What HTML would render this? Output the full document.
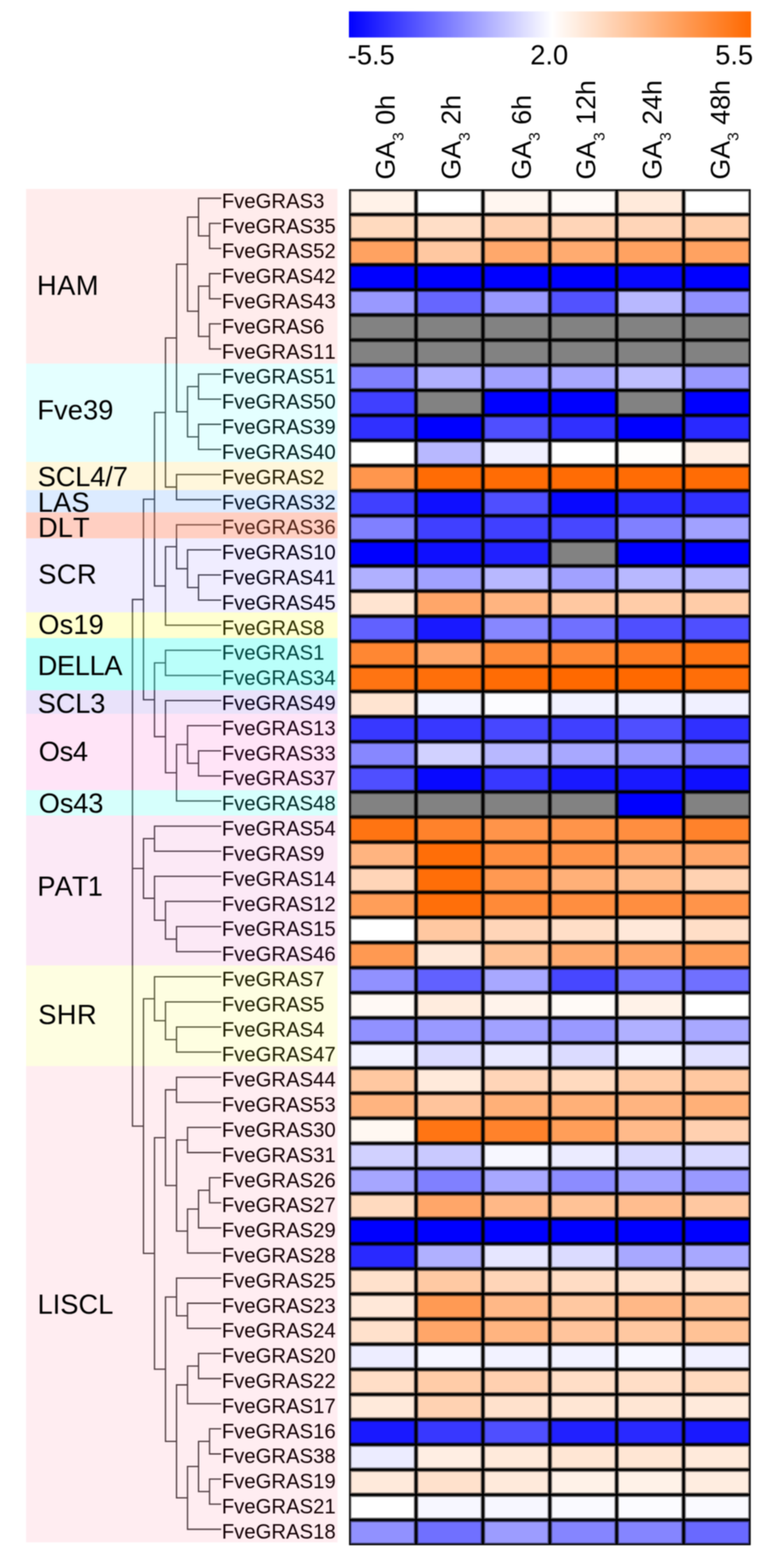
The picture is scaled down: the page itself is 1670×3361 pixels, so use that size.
<!DOCTYPE html>
<html lang="en"><head><meta charset="utf-8"><title>FveGRAS expression heatmap (GA3 treatment)</title>
<style>html,body{margin:0;padding:0;background:#fff}svg{display:block;filter:blur(0.8px)}text{font-family:'Liberation Sans', Arial, Helvetica, sans-serif;fill:#000;font-kerning:none}</style>
</head><body>
<svg width="1670" height="3361" viewBox="0 0 1670 3361">
<rect x="0" y="0" width="1670" height="3361" fill="#fff"/>
<g id="colorbar">
<rect x="748.0" y="24.5" width="3.6" height="55.8" fill="#0101ff"/>
<rect x="751.0" y="24.5" width="3.6" height="55.8" fill="#0303ff"/>
<rect x="754.0" y="24.5" width="3.6" height="55.8" fill="#0404ff"/>
<rect x="757.0" y="24.5" width="3.6" height="55.8" fill="#0606ff"/>
<rect x="760.0" y="24.5" width="3.6" height="55.8" fill="#0808ff"/>
<rect x="763.0" y="24.5" width="3.6" height="55.8" fill="#0a0aff"/>
<rect x="766.0" y="24.5" width="3.6" height="55.8" fill="#0b0bff"/>
<rect x="769.0" y="24.5" width="3.6" height="55.8" fill="#0d0dff"/>
<rect x="772.0" y="24.5" width="3.6" height="55.8" fill="#0f0fff"/>
<rect x="775.0" y="24.5" width="3.6" height="55.8" fill="#1111ff"/>
<rect x="778.0" y="24.5" width="3.6" height="55.8" fill="#1212ff"/>
<rect x="781.0" y="24.5" width="3.6" height="55.8" fill="#1414ff"/>
<rect x="784.0" y="24.5" width="3.6" height="55.8" fill="#1616ff"/>
<rect x="787.0" y="24.5" width="3.6" height="55.8" fill="#1818ff"/>
<rect x="790.0" y="24.5" width="3.6" height="55.8" fill="#1919ff"/>
<rect x="793.0" y="24.5" width="3.6" height="55.8" fill="#1b1bff"/>
<rect x="796.0" y="24.5" width="3.6" height="55.8" fill="#1d1dff"/>
<rect x="799.0" y="24.5" width="3.6" height="55.8" fill="#1f1fff"/>
<rect x="802.0" y="24.5" width="3.6" height="55.8" fill="#2121ff"/>
<rect x="805.0" y="24.5" width="3.6" height="55.8" fill="#2222ff"/>
<rect x="808.0" y="24.5" width="3.6" height="55.8" fill="#2424ff"/>
<rect x="811.0" y="24.5" width="3.6" height="55.8" fill="#2626ff"/>
<rect x="814.0" y="24.5" width="3.6" height="55.8" fill="#2828ff"/>
<rect x="817.0" y="24.5" width="3.6" height="55.8" fill="#2929ff"/>
<rect x="820.0" y="24.5" width="3.6" height="55.8" fill="#2b2bff"/>
<rect x="823.0" y="24.5" width="3.6" height="55.8" fill="#2d2dff"/>
<rect x="826.0" y="24.5" width="3.6" height="55.8" fill="#2f2fff"/>
<rect x="829.0" y="24.5" width="3.6" height="55.8" fill="#3030ff"/>
<rect x="832.0" y="24.5" width="3.6" height="55.8" fill="#3232ff"/>
<rect x="835.0" y="24.5" width="3.6" height="55.8" fill="#3434ff"/>
<rect x="838.0" y="24.5" width="3.6" height="55.8" fill="#3636ff"/>
<rect x="841.0" y="24.5" width="3.6" height="55.8" fill="#3737ff"/>
<rect x="844.0" y="24.5" width="3.6" height="55.8" fill="#3939ff"/>
<rect x="847.0" y="24.5" width="3.6" height="55.8" fill="#3b3bff"/>
<rect x="850.0" y="24.5" width="3.6" height="55.8" fill="#3d3dff"/>
<rect x="853.0" y="24.5" width="3.6" height="55.8" fill="#3e3eff"/>
<rect x="856.0" y="24.5" width="3.6" height="55.8" fill="#4040ff"/>
<rect x="859.0" y="24.5" width="3.6" height="55.8" fill="#4242ff"/>
<rect x="862.0" y="24.5" width="3.6" height="55.8" fill="#4444ff"/>
<rect x="865.0" y="24.5" width="3.6" height="55.8" fill="#4545ff"/>
<rect x="868.0" y="24.5" width="3.6" height="55.8" fill="#4747ff"/>
<rect x="871.0" y="24.5" width="3.6" height="55.8" fill="#4949ff"/>
<rect x="874.0" y="24.5" width="3.6" height="55.8" fill="#4b4bff"/>
<rect x="877.0" y="24.5" width="3.6" height="55.8" fill="#4c4cff"/>
<rect x="880.0" y="24.5" width="3.6" height="55.8" fill="#4e4eff"/>
<rect x="883.0" y="24.5" width="3.6" height="55.8" fill="#5050ff"/>
<rect x="886.0" y="24.5" width="3.6" height="55.8" fill="#5252ff"/>
<rect x="889.0" y="24.5" width="3.6" height="55.8" fill="#5353ff"/>
<rect x="892.0" y="24.5" width="3.6" height="55.8" fill="#5555ff"/>
<rect x="895.0" y="24.5" width="3.6" height="55.8" fill="#5757ff"/>
<rect x="898.0" y="24.5" width="3.6" height="55.8" fill="#5959ff"/>
<rect x="901.0" y="24.5" width="3.6" height="55.8" fill="#5b5bff"/>
<rect x="904.0" y="24.5" width="3.6" height="55.8" fill="#5c5cff"/>
<rect x="907.0" y="24.5" width="3.6" height="55.8" fill="#5e5eff"/>
<rect x="910.0" y="24.5" width="3.6" height="55.8" fill="#6060ff"/>
<rect x="913.0" y="24.5" width="3.6" height="55.8" fill="#6262ff"/>
<rect x="916.0" y="24.5" width="3.6" height="55.8" fill="#6363ff"/>
<rect x="919.0" y="24.5" width="3.6" height="55.8" fill="#6565ff"/>
<rect x="922.0" y="24.5" width="3.6" height="55.8" fill="#6767ff"/>
<rect x="925.0" y="24.5" width="3.6" height="55.8" fill="#6969ff"/>
<rect x="928.0" y="24.5" width="3.6" height="55.8" fill="#6a6aff"/>
<rect x="931.0" y="24.5" width="3.6" height="55.8" fill="#6c6cff"/>
<rect x="934.0" y="24.5" width="3.6" height="55.8" fill="#6e6eff"/>
<rect x="937.0" y="24.5" width="3.6" height="55.8" fill="#7070ff"/>
<rect x="940.0" y="24.5" width="3.6" height="55.8" fill="#7171ff"/>
<rect x="943.0" y="24.5" width="3.6" height="55.8" fill="#7373ff"/>
<rect x="946.0" y="24.5" width="3.6" height="55.8" fill="#7575ff"/>
<rect x="949.0" y="24.5" width="3.6" height="55.8" fill="#7777ff"/>
<rect x="952.0" y="24.5" width="3.6" height="55.8" fill="#7878ff"/>
<rect x="955.0" y="24.5" width="3.6" height="55.8" fill="#7a7aff"/>
<rect x="958.0" y="24.5" width="3.6" height="55.8" fill="#7c7cff"/>
<rect x="961.0" y="24.5" width="3.6" height="55.8" fill="#7e7eff"/>
<rect x="964.0" y="24.5" width="3.6" height="55.8" fill="#7f7fff"/>
<rect x="967.0" y="24.5" width="3.6" height="55.8" fill="#8181ff"/>
<rect x="970.0" y="24.5" width="3.6" height="55.8" fill="#8383ff"/>
<rect x="973.0" y="24.5" width="3.6" height="55.8" fill="#8585ff"/>
<rect x="976.0" y="24.5" width="3.6" height="55.8" fill="#8686ff"/>
<rect x="979.0" y="24.5" width="3.6" height="55.8" fill="#8888ff"/>
<rect x="982.0" y="24.5" width="3.6" height="55.8" fill="#8a8aff"/>
<rect x="985.0" y="24.5" width="3.6" height="55.8" fill="#8c8cff"/>
<rect x="988.0" y="24.5" width="3.6" height="55.8" fill="#8d8dff"/>
<rect x="991.0" y="24.5" width="3.6" height="55.8" fill="#8f8fff"/>
<rect x="994.0" y="24.5" width="3.6" height="55.8" fill="#9191ff"/>
<rect x="997.0" y="24.5" width="3.6" height="55.8" fill="#9393ff"/>
<rect x="1000.0" y="24.5" width="3.6" height="55.8" fill="#9494ff"/>
<rect x="1003.0" y="24.5" width="3.6" height="55.8" fill="#9696ff"/>
<rect x="1006.0" y="24.5" width="3.6" height="55.8" fill="#9898ff"/>
<rect x="1009.0" y="24.5" width="3.6" height="55.8" fill="#9a9aff"/>
<rect x="1012.0" y="24.5" width="3.6" height="55.8" fill="#9c9cff"/>
<rect x="1015.0" y="24.5" width="3.6" height="55.8" fill="#9d9dff"/>
<rect x="1018.0" y="24.5" width="3.6" height="55.8" fill="#9f9fff"/>
<rect x="1021.0" y="24.5" width="3.6" height="55.8" fill="#a1a1ff"/>
<rect x="1024.0" y="24.5" width="3.6" height="55.8" fill="#a3a3ff"/>
<rect x="1027.0" y="24.5" width="3.6" height="55.8" fill="#a4a4ff"/>
<rect x="1030.0" y="24.5" width="3.6" height="55.8" fill="#a6a6ff"/>
<rect x="1033.0" y="24.5" width="3.6" height="55.8" fill="#a8a8ff"/>
<rect x="1036.0" y="24.5" width="3.6" height="55.8" fill="#aaaaff"/>
<rect x="1039.0" y="24.5" width="3.6" height="55.8" fill="#ababff"/>
<rect x="1042.0" y="24.5" width="3.6" height="55.8" fill="#adadff"/>
<rect x="1045.0" y="24.5" width="3.6" height="55.8" fill="#afafff"/>
<rect x="1048.0" y="24.5" width="3.6" height="55.8" fill="#b1b1ff"/>
<rect x="1051.0" y="24.5" width="3.6" height="55.8" fill="#b2b2ff"/>
<rect x="1054.0" y="24.5" width="3.6" height="55.8" fill="#b4b4ff"/>
<rect x="1057.0" y="24.5" width="3.6" height="55.8" fill="#b6b6ff"/>
<rect x="1060.0" y="24.5" width="3.6" height="55.8" fill="#b8b8ff"/>
<rect x="1063.0" y="24.5" width="3.6" height="55.8" fill="#b9b9ff"/>
<rect x="1066.0" y="24.5" width="3.6" height="55.8" fill="#bbbbff"/>
<rect x="1069.0" y="24.5" width="3.6" height="55.8" fill="#bdbdff"/>
<rect x="1072.0" y="24.5" width="3.6" height="55.8" fill="#bfbfff"/>
<rect x="1075.0" y="24.5" width="3.6" height="55.8" fill="#c0c0ff"/>
<rect x="1078.0" y="24.5" width="3.6" height="55.8" fill="#c2c2ff"/>
<rect x="1081.0" y="24.5" width="3.6" height="55.8" fill="#c4c4ff"/>
<rect x="1084.0" y="24.5" width="3.6" height="55.8" fill="#c6c6ff"/>
<rect x="1087.0" y="24.5" width="3.6" height="55.8" fill="#c7c7ff"/>
<rect x="1090.0" y="24.5" width="3.6" height="55.8" fill="#c9c9ff"/>
<rect x="1093.0" y="24.5" width="3.6" height="55.8" fill="#cbcbff"/>
<rect x="1096.0" y="24.5" width="3.6" height="55.8" fill="#cdcdff"/>
<rect x="1099.0" y="24.5" width="3.6" height="55.8" fill="#ceceff"/>
<rect x="1102.0" y="24.5" width="3.6" height="55.8" fill="#d0d0ff"/>
<rect x="1105.0" y="24.5" width="3.6" height="55.8" fill="#d2d2ff"/>
<rect x="1108.0" y="24.5" width="3.6" height="55.8" fill="#d4d4ff"/>
<rect x="1111.0" y="24.5" width="3.6" height="55.8" fill="#d6d6ff"/>
<rect x="1114.0" y="24.5" width="3.6" height="55.8" fill="#d7d7ff"/>
<rect x="1117.0" y="24.5" width="3.6" height="55.8" fill="#d9d9ff"/>
<rect x="1120.0" y="24.5" width="3.6" height="55.8" fill="#dbdbff"/>
<rect x="1123.0" y="24.5" width="3.6" height="55.8" fill="#ddddff"/>
<rect x="1126.0" y="24.5" width="3.6" height="55.8" fill="#dedeff"/>
<rect x="1129.0" y="24.5" width="3.6" height="55.8" fill="#e0e0ff"/>
<rect x="1132.0" y="24.5" width="3.6" height="55.8" fill="#e2e2ff"/>
<rect x="1135.0" y="24.5" width="3.6" height="55.8" fill="#e4e4ff"/>
<rect x="1138.0" y="24.5" width="3.6" height="55.8" fill="#e5e5ff"/>
<rect x="1141.0" y="24.5" width="3.6" height="55.8" fill="#e7e7ff"/>
<rect x="1144.0" y="24.5" width="3.6" height="55.8" fill="#e9e9ff"/>
<rect x="1147.0" y="24.5" width="3.6" height="55.8" fill="#ebebff"/>
<rect x="1150.0" y="24.5" width="3.6" height="55.8" fill="#ececff"/>
<rect x="1153.0" y="24.5" width="3.6" height="55.8" fill="#eeeeff"/>
<rect x="1156.0" y="24.5" width="3.6" height="55.8" fill="#f0f0ff"/>
<rect x="1159.0" y="24.5" width="3.6" height="55.8" fill="#f2f2ff"/>
<rect x="1162.0" y="24.5" width="3.6" height="55.8" fill="#f3f3ff"/>
<rect x="1165.0" y="24.5" width="3.6" height="55.8" fill="#f5f5ff"/>
<rect x="1168.0" y="24.5" width="3.6" height="55.8" fill="#f7f7ff"/>
<rect x="1171.0" y="24.5" width="3.6" height="55.8" fill="#f9f9ff"/>
<rect x="1174.0" y="24.5" width="3.6" height="55.8" fill="#fafaff"/>
<rect x="1177.0" y="24.5" width="3.6" height="55.8" fill="#fcfcff"/>
<rect x="1180.0" y="24.5" width="3.6" height="55.8" fill="#fefeff"/>
<rect x="1183.0" y="24.5" width="3.6" height="55.8" fill="#fffffe"/>
<rect x="1186.0" y="24.5" width="3.6" height="55.8" fill="#fffefc"/>
<rect x="1189.0" y="24.5" width="3.6" height="55.8" fill="#fffcfb"/>
<rect x="1192.0" y="24.5" width="3.6" height="55.8" fill="#fffbf9"/>
<rect x="1195.0" y="24.5" width="3.6" height="55.8" fill="#fffaf7"/>
<rect x="1198.0" y="24.5" width="3.6" height="55.8" fill="#fff9f5"/>
<rect x="1201.0" y="24.5" width="3.6" height="55.8" fill="#fff8f4"/>
<rect x="1204.0" y="24.5" width="3.6" height="55.8" fill="#fff7f2"/>
<rect x="1207.0" y="24.5" width="3.6" height="55.8" fill="#fff6f0"/>
<rect x="1210.0" y="24.5" width="3.6" height="55.8" fill="#fff5ee"/>
<rect x="1213.0" y="24.5" width="3.6" height="55.8" fill="#fff4ec"/>
<rect x="1216.0" y="24.5" width="3.6" height="55.8" fill="#fff3eb"/>
<rect x="1219.0" y="24.5" width="3.6" height="55.8" fill="#fff2e9"/>
<rect x="1222.0" y="24.5" width="3.6" height="55.8" fill="#fff1e7"/>
<rect x="1225.0" y="24.5" width="3.6" height="55.8" fill="#fff0e5"/>
<rect x="1228.0" y="24.5" width="3.6" height="55.8" fill="#ffefe3"/>
<rect x="1231.0" y="24.5" width="3.6" height="55.8" fill="#ffeee2"/>
<rect x="1234.0" y="24.5" width="3.6" height="55.8" fill="#ffede0"/>
<rect x="1237.0" y="24.5" width="3.6" height="55.8" fill="#ffecde"/>
<rect x="1240.0" y="24.5" width="3.6" height="55.8" fill="#ffebdc"/>
<rect x="1243.0" y="24.5" width="3.6" height="55.8" fill="#ffe9da"/>
<rect x="1246.0" y="24.5" width="3.6" height="55.8" fill="#ffe8d9"/>
<rect x="1249.0" y="24.5" width="3.6" height="55.8" fill="#ffe7d7"/>
<rect x="1252.0" y="24.5" width="3.6" height="55.8" fill="#ffe6d5"/>
<rect x="1255.0" y="24.5" width="3.6" height="55.8" fill="#ffe5d3"/>
<rect x="1258.0" y="24.5" width="3.6" height="55.8" fill="#ffe4d1"/>
<rect x="1261.0" y="24.5" width="3.6" height="55.8" fill="#ffe3d0"/>
<rect x="1264.0" y="24.5" width="3.6" height="55.8" fill="#ffe2ce"/>
<rect x="1267.0" y="24.5" width="3.6" height="55.8" fill="#ffe1cc"/>
<rect x="1270.0" y="24.5" width="3.6" height="55.8" fill="#ffe0ca"/>
<rect x="1273.0" y="24.5" width="3.6" height="55.8" fill="#ffdfc9"/>
<rect x="1276.0" y="24.5" width="3.6" height="55.8" fill="#ffdec7"/>
<rect x="1279.0" y="24.5" width="3.6" height="55.8" fill="#ffddc5"/>
<rect x="1282.0" y="24.5" width="3.6" height="55.8" fill="#ffdcc3"/>
<rect x="1285.0" y="24.5" width="3.6" height="55.8" fill="#ffdbc1"/>
<rect x="1288.0" y="24.5" width="3.6" height="55.8" fill="#ffdac0"/>
<rect x="1291.0" y="24.5" width="3.6" height="55.8" fill="#ffd9be"/>
<rect x="1294.0" y="24.5" width="3.6" height="55.8" fill="#ffd8bc"/>
<rect x="1297.0" y="24.5" width="3.6" height="55.8" fill="#ffd7ba"/>
<rect x="1300.0" y="24.5" width="3.6" height="55.8" fill="#ffd5b8"/>
<rect x="1303.0" y="24.5" width="3.6" height="55.8" fill="#ffd4b7"/>
<rect x="1306.0" y="24.5" width="3.6" height="55.8" fill="#ffd3b5"/>
<rect x="1309.0" y="24.5" width="3.6" height="55.8" fill="#ffd2b3"/>
<rect x="1312.0" y="24.5" width="3.6" height="55.8" fill="#ffd1b1"/>
<rect x="1315.0" y="24.5" width="3.6" height="55.8" fill="#ffd0af"/>
<rect x="1318.0" y="24.5" width="3.6" height="55.8" fill="#ffcfae"/>
<rect x="1321.0" y="24.5" width="3.6" height="55.8" fill="#ffceac"/>
<rect x="1324.0" y="24.5" width="3.6" height="55.8" fill="#ffcdaa"/>
<rect x="1327.0" y="24.5" width="3.6" height="55.8" fill="#ffcca8"/>
<rect x="1330.0" y="24.5" width="3.6" height="55.8" fill="#ffcba6"/>
<rect x="1333.0" y="24.5" width="3.6" height="55.8" fill="#ffcaa5"/>
<rect x="1336.0" y="24.5" width="3.6" height="55.8" fill="#ffc9a3"/>
<rect x="1339.0" y="24.5" width="3.6" height="55.8" fill="#ffc8a1"/>
<rect x="1342.0" y="24.5" width="3.6" height="55.8" fill="#ffc79f"/>
<rect x="1345.0" y="24.5" width="3.6" height="55.8" fill="#ffc69d"/>
<rect x="1348.0" y="24.5" width="3.6" height="55.8" fill="#ffc59c"/>
<rect x="1351.0" y="24.5" width="3.6" height="55.8" fill="#ffc49a"/>
<rect x="1354.0" y="24.5" width="3.6" height="55.8" fill="#ffc298"/>
<rect x="1357.0" y="24.5" width="3.6" height="55.8" fill="#ffc196"/>
<rect x="1360.0" y="24.5" width="3.6" height="55.8" fill="#ffc095"/>
<rect x="1363.0" y="24.5" width="3.6" height="55.8" fill="#ffbf93"/>
<rect x="1366.0" y="24.5" width="3.6" height="55.8" fill="#ffbe91"/>
<rect x="1369.0" y="24.5" width="3.6" height="55.8" fill="#ffbd8f"/>
<rect x="1372.0" y="24.5" width="3.6" height="55.8" fill="#ffbc8d"/>
<rect x="1375.0" y="24.5" width="3.6" height="55.8" fill="#ffbb8c"/>
<rect x="1378.0" y="24.5" width="3.6" height="55.8" fill="#ffba8a"/>
<rect x="1381.0" y="24.5" width="3.6" height="55.8" fill="#ffb988"/>
<rect x="1384.0" y="24.5" width="3.6" height="55.8" fill="#ffb886"/>
<rect x="1387.0" y="24.5" width="3.6" height="55.8" fill="#ffb784"/>
<rect x="1390.0" y="24.5" width="3.6" height="55.8" fill="#ffb683"/>
<rect x="1393.0" y="24.5" width="3.6" height="55.8" fill="#ffb581"/>
<rect x="1396.0" y="24.5" width="3.6" height="55.8" fill="#ffb47f"/>
<rect x="1399.0" y="24.5" width="3.6" height="55.8" fill="#ffb37d"/>
<rect x="1402.0" y="24.5" width="3.6" height="55.8" fill="#ffb27b"/>
<rect x="1405.0" y="24.5" width="3.6" height="55.8" fill="#ffb17a"/>
<rect x="1408.0" y="24.5" width="3.6" height="55.8" fill="#ffaf78"/>
<rect x="1411.0" y="24.5" width="3.6" height="55.8" fill="#ffae76"/>
<rect x="1414.0" y="24.5" width="3.6" height="55.8" fill="#ffad74"/>
<rect x="1417.0" y="24.5" width="3.6" height="55.8" fill="#ffac72"/>
<rect x="1420.0" y="24.5" width="3.6" height="55.8" fill="#ffab71"/>
<rect x="1423.0" y="24.5" width="3.6" height="55.8" fill="#ffaa6f"/>
<rect x="1426.0" y="24.5" width="3.6" height="55.8" fill="#ffa96d"/>
<rect x="1429.0" y="24.5" width="3.6" height="55.8" fill="#ffa86b"/>
<rect x="1432.0" y="24.5" width="3.6" height="55.8" fill="#ffa769"/>
<rect x="1435.0" y="24.5" width="3.6" height="55.8" fill="#ffa668"/>
<rect x="1438.0" y="24.5" width="3.6" height="55.8" fill="#ffa566"/>
<rect x="1441.0" y="24.5" width="3.6" height="55.8" fill="#ffa464"/>
<rect x="1444.0" y="24.5" width="3.6" height="55.8" fill="#ffa362"/>
<rect x="1447.0" y="24.5" width="3.6" height="55.8" fill="#ffa261"/>
<rect x="1450.0" y="24.5" width="3.6" height="55.8" fill="#ffa15f"/>
<rect x="1453.0" y="24.5" width="3.6" height="55.8" fill="#ffa05d"/>
<rect x="1456.0" y="24.5" width="3.6" height="55.8" fill="#ff9f5b"/>
<rect x="1459.0" y="24.5" width="3.6" height="55.8" fill="#ff9e59"/>
<rect x="1462.0" y="24.5" width="3.6" height="55.8" fill="#ff9d58"/>
<rect x="1465.0" y="24.5" width="3.6" height="55.8" fill="#ff9b56"/>
<rect x="1468.0" y="24.5" width="3.6" height="55.8" fill="#ff9a54"/>
<rect x="1471.0" y="24.5" width="3.6" height="55.8" fill="#ff9952"/>
<rect x="1474.0" y="24.5" width="3.6" height="55.8" fill="#ff9850"/>
<rect x="1477.0" y="24.5" width="3.6" height="55.8" fill="#ff974f"/>
<rect x="1480.0" y="24.5" width="3.6" height="55.8" fill="#ff964d"/>
<rect x="1483.0" y="24.5" width="3.6" height="55.8" fill="#ff954b"/>
<rect x="1486.0" y="24.5" width="3.6" height="55.8" fill="#ff9449"/>
<rect x="1489.0" y="24.5" width="3.6" height="55.8" fill="#ff9347"/>
<rect x="1492.0" y="24.5" width="3.6" height="55.8" fill="#ff9246"/>
<rect x="1495.0" y="24.5" width="3.6" height="55.8" fill="#ff9144"/>
<rect x="1498.0" y="24.5" width="3.6" height="55.8" fill="#ff9042"/>
<rect x="1501.0" y="24.5" width="3.6" height="55.8" fill="#ff8f40"/>
<rect x="1504.0" y="24.5" width="3.6" height="55.8" fill="#ff8e3e"/>
<rect x="1507.0" y="24.5" width="3.6" height="55.8" fill="#ff8d3d"/>
<rect x="1510.0" y="24.5" width="3.6" height="55.8" fill="#ff8c3b"/>
<rect x="1513.0" y="24.5" width="3.6" height="55.8" fill="#ff8b39"/>
<rect x="1516.0" y="24.5" width="3.6" height="55.8" fill="#ff8a37"/>
<rect x="1519.0" y="24.5" width="3.6" height="55.8" fill="#ff8835"/>
<rect x="1522.0" y="24.5" width="3.6" height="55.8" fill="#ff8734"/>
<rect x="1525.0" y="24.5" width="3.6" height="55.8" fill="#ff8632"/>
<rect x="1528.0" y="24.5" width="3.6" height="55.8" fill="#ff8530"/>
<rect x="1531.0" y="24.5" width="3.6" height="55.8" fill="#ff842e"/>
<rect x="1534.0" y="24.5" width="3.6" height="55.8" fill="#ff832d"/>
<rect x="1537.0" y="24.5" width="3.6" height="55.8" fill="#ff822b"/>
<rect x="1540.0" y="24.5" width="3.6" height="55.8" fill="#ff8129"/>
<rect x="1543.0" y="24.5" width="3.6" height="55.8" fill="#ff8027"/>
<rect x="1546.0" y="24.5" width="3.6" height="55.8" fill="#ff7f25"/>
<rect x="1549.0" y="24.5" width="3.6" height="55.8" fill="#ff7e24"/>
<rect x="1552.0" y="24.5" width="3.6" height="55.8" fill="#ff7d22"/>
<rect x="1555.0" y="24.5" width="3.6" height="55.8" fill="#ff7c20"/>
<rect x="1558.0" y="24.5" width="3.6" height="55.8" fill="#ff7b1e"/>
<rect x="1561.0" y="24.5" width="3.6" height="55.8" fill="#ff7a1c"/>
<rect x="1564.0" y="24.5" width="3.6" height="55.8" fill="#ff791b"/>
<rect x="1567.0" y="24.5" width="3.6" height="55.8" fill="#ff7819"/>
<rect x="1570.0" y="24.5" width="3.6" height="55.8" fill="#ff7717"/>
<rect x="1573.0" y="24.5" width="3.6" height="55.8" fill="#ff7515"/>
<rect x="1576.0" y="24.5" width="3.6" height="55.8" fill="#ff7413"/>
<rect x="1579.0" y="24.5" width="3.6" height="55.8" fill="#ff7312"/>
<rect x="1582.0" y="24.5" width="3.6" height="55.8" fill="#ff7210"/>
<rect x="1585.0" y="24.5" width="3.6" height="55.8" fill="#ff710e"/>
<rect x="1588.0" y="24.5" width="3.6" height="55.8" fill="#ff700c"/>
<rect x="1591.0" y="24.5" width="3.6" height="55.8" fill="#ff6f0a"/>
<rect x="1594.0" y="24.5" width="3.6" height="55.8" fill="#ff6e09"/>
<rect x="1597.0" y="24.5" width="3.6" height="55.8" fill="#ff6d07"/>
<rect x="1600.0" y="24.5" width="3.6" height="55.8" fill="#ff6c05"/>
<rect x="1603.0" y="24.5" width="3.6" height="55.8" fill="#ff6b03"/>
<rect x="1606.0" y="24.5" width="3.6" height="55.8" fill="#ff6a01"/>
<rect x="1609.0" y="24.5" width="1.0" height="55.8" fill="#ff6900"/>
<text x="745.6" y="137.5" font-size="58.5">-5.5</text>
<text x="1177.5" y="137.5" font-size="58.5" text-anchor="middle">2.0</text>
<text x="1614.5" y="137.5" font-size="58.5" text-anchor="end">5.5</text>
</g>
<g id="colheaders">
<text transform="translate(845.8 385.0) rotate(-90)" font-size="57.5">GA<tspan font-size="33" dy="19.5">3</tspan><tspan dy="-19.5"> 0h</tspan></text>
<text transform="translate(987.3 385.0) rotate(-90)" font-size="57.5">GA<tspan font-size="33" dy="19.5">3</tspan><tspan dy="-19.5"> 2h</tspan></text>
<text transform="translate(1137.6 385.0) rotate(-90)" font-size="57.5">GA<tspan font-size="33" dy="19.5">3</tspan><tspan dy="-19.5"> 6h</tspan></text>
<text transform="translate(1276.0 385.0) rotate(-90)" font-size="57.5">GA<tspan font-size="33" dy="19.5">3</tspan><tspan dy="-19.5"> 12h</tspan></text>
<text transform="translate(1418.0 385.0) rotate(-90)" font-size="57.5">GA<tspan font-size="33" dy="19.5">3</tspan><tspan dy="-19.5"> 24h</tspan></text>
<text transform="translate(1563.6 385.0) rotate(-90)" font-size="57.5">GA<tspan font-size="33" dy="19.5">3</tspan><tspan dy="-19.5"> 48h</tspan></text>
</g>
<g id="tree" fill="none" stroke="#000" stroke-opacity="0.74" stroke-width="2.8" stroke-linecap="square">
<path d="M449.2 478.8L472.8 478.8M449.2 532.7L472.8 532.7M449.2 478.8L449.2 532.7M425.6 425.0L472.8 425.0M425.6 505.7L449.2 505.7M425.6 425.0L425.6 505.7M449.2 586.5L472.8 586.5M449.2 640.3L472.8 640.3M449.2 586.5L449.2 640.3M449.2 694.1L472.8 694.1M449.2 748.0L472.8 748.0M449.2 694.1L449.2 748.0M425.6 613.4L449.2 613.4M425.6 721.1L449.2 721.1M425.6 613.4L425.6 721.1M402.0 465.4L425.6 465.4M402.0 667.2L425.6 667.2M402.0 465.4L402.0 667.2M425.6 801.8L472.8 801.8M425.6 855.6L472.8 855.6M425.6 801.8L425.6 855.6M425.6 909.5L472.8 909.5M425.6 963.3L472.8 963.3M425.6 909.5L425.6 963.3M402.0 828.7L425.6 828.7M402.0 936.4L425.6 936.4M402.0 828.7L402.0 936.4M378.4 566.3L402.0 566.3M378.4 882.6L402.0 882.6M378.4 566.3L378.4 882.6M378.4 1017.1L472.8 1017.1M378.4 1071.0L472.8 1071.0M378.4 1017.1L378.4 1071.0M354.8 724.4L378.4 724.4M354.8 1044.0L378.4 1044.0M354.8 724.4L354.8 1044.0M425.6 1232.4L472.8 1232.4M425.6 1286.3L472.8 1286.3M425.6 1232.4L425.6 1286.3M402.0 1178.6L472.8 1178.6M402.0 1259.4L425.6 1259.4M402.0 1178.6L402.0 1259.4M378.4 1124.8L472.8 1124.8M378.4 1219.0L402.0 1219.0M378.4 1124.8L378.4 1219.0M354.8 1171.9L378.4 1171.9M354.8 1340.1L472.8 1340.1M354.8 1171.9L354.8 1340.1M331.2 884.2L354.8 884.2M331.2 1256.0L354.8 1256.0M331.2 884.2L331.2 1256.0M354.8 1393.9L472.8 1393.9M354.8 1447.8L472.8 1447.8M354.8 1393.9L354.8 1447.8M425.6 1609.3L472.8 1609.3M425.6 1663.1L472.8 1663.1M425.6 1609.3L425.6 1663.1M402.0 1555.4L472.8 1555.4M402.0 1636.2L425.6 1636.2M402.0 1555.4L402.0 1636.2M378.4 1595.8L402.0 1595.8M378.4 1716.9L472.8 1716.9M378.4 1595.8L378.4 1716.9M354.8 1501.6L472.8 1501.6M354.8 1656.4L378.4 1656.4M354.8 1501.6L354.8 1656.4M331.2 1420.9L354.8 1420.9M331.2 1579.0L354.8 1579.0M331.2 1420.9L331.2 1579.0M307.6 1070.1L331.2 1070.1M307.6 1499.9L331.2 1499.9M307.6 1070.1L307.6 1499.9M331.2 1770.8L472.8 1770.8M331.2 1824.6L472.8 1824.6M331.2 1770.8L331.2 1824.6M378.4 1986.1L472.8 1986.1M378.4 2039.9L472.8 2039.9M378.4 1986.1L378.4 2039.9M354.8 1932.2L472.8 1932.2M354.8 2013.0L378.4 2013.0M354.8 1932.2L354.8 2013.0M331.2 1878.4L472.8 1878.4M331.2 1972.6L354.8 1972.6M331.2 1878.4L331.2 1972.6M307.6 1797.7L331.2 1797.7M307.6 1925.5L331.2 1925.5M307.6 1797.7L307.6 1925.5M378.4 2201.4L472.8 2201.4M378.4 2255.2L472.8 2255.2M378.4 2201.4L378.4 2255.2M354.8 2147.6L472.8 2147.6M354.8 2228.3L378.4 2228.3M354.8 2147.6L354.8 2228.3M331.2 2093.7L472.8 2093.7M331.2 2187.9L354.8 2187.9M331.2 2093.7L331.2 2187.9M378.4 2309.1L472.8 2309.1M378.4 2362.9L472.8 2362.9M378.4 2309.1L378.4 2362.9M402.0 2416.7L472.8 2416.7M402.0 2470.5L472.8 2470.5M402.0 2416.7L402.0 2470.5M449.2 2524.4L472.8 2524.4M449.2 2578.2L472.8 2578.2M449.2 2524.4L449.2 2578.2M425.6 2551.3L449.2 2551.3M425.6 2632.0L472.8 2632.0M425.6 2551.3L425.6 2632.0M402.0 2591.7L425.6 2591.7M402.0 2685.9L472.8 2685.9M402.0 2591.7L402.0 2685.9M378.4 2443.6L402.0 2443.6M378.4 2638.8L402.0 2638.8M378.4 2443.6L378.4 2638.8M354.8 2336.0L378.4 2336.0M354.8 2541.2L378.4 2541.2M354.8 2336.0L354.8 2541.2M402.0 2793.5L472.8 2793.5M402.0 2847.3L472.8 2847.3M402.0 2793.5L402.0 2847.3M378.4 2739.7L472.8 2739.7M378.4 2820.4L402.0 2820.4M378.4 2739.7L378.4 2820.4M425.6 2901.2L472.8 2901.2M425.6 2955.0L472.8 2955.0M425.6 2901.2L425.6 2955.0M402.0 2928.1L425.6 2928.1M402.0 3008.8L472.8 3008.8M402.0 2928.1L402.0 3008.8M449.2 3062.7L472.8 3062.7M449.2 3116.5L472.8 3116.5M449.2 3062.7L449.2 3116.5M449.2 3170.3L472.8 3170.3M449.2 3224.2L472.8 3224.2M449.2 3170.3L449.2 3224.2M425.6 3089.6L449.2 3089.6M425.6 3197.2L449.2 3197.2M425.6 3089.6L425.6 3197.2M402.0 3143.4L425.6 3143.4M402.0 3278.0L472.8 3278.0M402.0 3143.4L402.0 3278.0M378.4 2968.5L402.0 2968.5M378.4 3210.7L402.0 3210.7M378.4 2968.5L378.4 3210.7M354.8 2780.1L378.4 2780.1M354.8 3089.6L378.4 3089.6M354.8 2780.1L354.8 3089.6M331.2 2438.6L354.8 2438.6M331.2 2934.8L354.8 2934.8M331.2 2438.6L331.2 2934.8M307.6 2140.8L331.2 2140.8M307.6 2686.7L331.2 2686.7M307.6 2140.8L307.6 2686.7M284.0 1285.0L307.6 1285.0M284.0 1861.6L307.6 1861.6M284.0 2413.8L307.6 2413.8M284.0 1285.0L284.0 2413.8"/>
</g>
<g id="genes" font-size="43.5" fill-opacity="1">
<text x="475.5" y="445.7">FveGRAS3</text>
<text x="475.5" y="499.5">FveGRAS35</text>
<text x="475.5" y="553.3">FveGRAS52</text>
<text x="475.5" y="607.1">FveGRAS42</text>
<text x="475.5" y="661.0">FveGRAS43</text>
<text x="475.5" y="714.8">FveGRAS6</text>
<text x="475.5" y="768.6">FveGRAS11</text>
<text x="475.5" y="822.4">FveGRAS51</text>
<text x="475.5" y="876.2">FveGRAS50</text>
<text x="475.5" y="930.0">FveGRAS39</text>
<text x="475.5" y="983.8">FveGRAS40</text>
<text x="475.5" y="1037.7">FveGRAS2</text>
<text x="475.5" y="1091.5">FveGRAS32</text>
<text x="475.5" y="1145.3">FveGRAS36</text>
<text x="475.5" y="1199.1">FveGRAS10</text>
<text x="475.5" y="1252.9">FveGRAS41</text>
<text x="475.5" y="1306.7">FveGRAS45</text>
<text x="475.5" y="1360.6">FveGRAS8</text>
<text x="475.5" y="1414.4">FveGRAS1</text>
<text x="475.5" y="1468.2">FveGRAS34</text>
<text x="475.5" y="1522.0">FveGRAS49</text>
<text x="475.5" y="1575.8">FveGRAS13</text>
<text x="475.5" y="1629.6">FveGRAS33</text>
<text x="475.5" y="1683.4">FveGRAS37</text>
<text x="475.5" y="1737.3">FveGRAS48</text>
<text x="475.5" y="1791.1">FveGRAS54</text>
<text x="475.5" y="1844.9">FveGRAS9</text>
<text x="475.5" y="1898.7">FveGRAS14</text>
<text x="475.5" y="1952.5">FveGRAS12</text>
<text x="475.5" y="2006.3">FveGRAS15</text>
<text x="475.5" y="2060.1">FveGRAS46</text>
<text x="475.5" y="2114.0">FveGRAS7</text>
<text x="475.5" y="2167.8">FveGRAS5</text>
<text x="475.5" y="2221.6">FveGRAS4</text>
<text x="475.5" y="2275.4">FveGRAS47</text>
<text x="475.5" y="2329.2">FveGRAS44</text>
<text x="475.5" y="2383.0">FveGRAS53</text>
<text x="475.5" y="2436.9">FveGRAS30</text>
<text x="475.5" y="2490.7">FveGRAS31</text>
<text x="475.5" y="2544.5">FveGRAS26</text>
<text x="475.5" y="2598.3">FveGRAS27</text>
<text x="475.5" y="2652.1">FveGRAS29</text>
<text x="475.5" y="2705.9">FveGRAS28</text>
<text x="475.5" y="2759.7">FveGRAS25</text>
<text x="475.5" y="2813.6">FveGRAS23</text>
<text x="475.5" y="2867.4">FveGRAS24</text>
<text x="475.5" y="2921.2">FveGRAS20</text>
<text x="475.5" y="2975.0">FveGRAS22</text>
<text x="475.5" y="3028.8">FveGRAS17</text>
<text x="475.5" y="3082.6">FveGRAS16</text>
<text x="475.5" y="3136.4">FveGRAS38</text>
<text x="475.5" y="3190.3">FveGRAS19</text>
<text x="475.5" y="3244.1">FveGRAS21</text>
<text x="475.5" y="3297.9">FveGRAS18</text>
</g>
<g id="bands">
<rect x="56.0" y="405.0" width="667.5" height="374.3" fill="rgb(255,0,0)" fill-opacity="0.0745"/>
<rect x="56.0" y="779.3" width="667.5" height="210.7" fill="rgb(0,255,255)" fill-opacity="0.1059"/>
<rect x="56.0" y="990.0" width="667.5" height="60.5" fill="rgb(255,197,0)" fill-opacity="0.1373"/>
<rect x="56.0" y="1050.5" width="667.5" height="47.8" fill="rgb(0,109,255)" fill-opacity="0.1373"/>
<rect x="56.0" y="1098.3" width="667.5" height="55.6" fill="rgb(255,105,64)" fill-opacity="0.32"/>
<rect x="56.0" y="1153.9" width="667.5" height="158.6" fill="rgb(42,0,255)" fill-opacity="0.0706"/>
<rect x="56.0" y="1312.5" width="667.5" height="55.2" fill="rgb(255,255,0)" fill-opacity="0.1843"/>
<rect x="56.0" y="1367.7" width="667.5" height="111.8" fill="rgb(0,255,237)" fill-opacity="0.2706"/>
<rect x="56.0" y="1479.5" width="667.5" height="50.5" fill="rgb(62,0,211)" fill-opacity="0.1137"/>
<rect x="56.0" y="1530.0" width="667.5" height="163.6" fill="rgb(255,0,179)" fill-opacity="0.1059"/>
<rect x="56.0" y="1693.6" width="667.5" height="54.4" fill="rgb(0,255,236)" fill-opacity="0.1608"/>
<rect x="56.0" y="1748.0" width="667.5" height="321.3" fill="rgb(220,0,151)" fill-opacity="0.0863"/>
<rect x="56.0" y="2069.3" width="667.5" height="215.8" fill="rgb(246,246,0)" fill-opacity="0.1176"/>
<rect x="56.0" y="2285.1" width="667.5" height="1020.9" fill="rgb(255,0,57)" fill-opacity="0.0706"/>
</g>
<g id="groups" font-size="58.5">
<text x="79.2" y="632.0" letter-spacing="1.00">HAM</text>
<text x="79.9" y="898.8" letter-spacing="0.17">Fve39</text>
<text x="80.7" y="1042.2" letter-spacing="-0.30">SCL4/7</text>
<text x="81.1" y="1097.2" letter-spacing="0.15">LAS</text>
<text x="81.6" y="1150.6" letter-spacing="0.00">DLT</text>
<text x="81.9" y="1250.6" letter-spacing="0.95">SCR</text>
<text x="81.9" y="1359.4" letter-spacing="0.27">Os19</text>
<text x="80.7" y="1446.8" letter-spacing="-0.85">DELLA</text>
<text x="80.7" y="1527.9" letter-spacing="-0.30">SCL3</text>
<text x="83.1" y="1631.0" letter-spacing="-0.75">Os4</text>
<text x="83.1" y="1742.2" letter-spacing="-0.37">Os43</text>
<text x="79.9" y="1920.1" letter-spacing="-1.87">PAT1</text>
<text x="81.9" y="2195.3" letter-spacing="0.95">SHR</text>
<text x="80.4" y="2816.0" letter-spacing="0.00">LISCL</text>
</g>
<g id="heatmap" stroke-width="2.4">
<rect x="748.3" y="405.6" width="861.0" height="2906.6" fill="#000" stroke="none"/>
<rect x="752.2" y="409.7" width="136.0" height="46.4" fill="#fff2e8" stroke="#807974"/>
<rect x="895.6" y="409.7" width="136.0" height="46.4" fill="#ffffff" stroke="#808080"/>
<rect x="1039.0" y="409.7" width="136.0" height="46.4" fill="#fff6f0" stroke="#807b78"/>
<rect x="1182.4" y="409.7" width="136.0" height="46.4" fill="#fffaf7" stroke="#807d7c"/>
<rect x="1325.8" y="409.7" width="136.0" height="46.4" fill="#ffeadb" stroke="#80756e"/>
<rect x="1469.2" y="409.7" width="136.0" height="46.4" fill="#ffffff" stroke="#808080"/>
<rect x="752.2" y="463.5" width="136.0" height="46.4" fill="#ffdabf" stroke="#806d60"/>
<rect x="895.6" y="463.5" width="136.0" height="46.4" fill="#ffdec7" stroke="#806f63"/>
<rect x="1039.0" y="463.5" width="136.0" height="46.4" fill="#ffd0b0" stroke="#806858"/>
<rect x="1182.4" y="463.5" width="136.0" height="46.4" fill="#ffd5b8" stroke="#806a5c"/>
<rect x="1325.8" y="463.5" width="136.0" height="46.4" fill="#ffd5b8" stroke="#806a5c"/>
<rect x="1469.2" y="463.5" width="136.0" height="46.4" fill="#ffceab" stroke="#806755"/>
<rect x="752.2" y="517.3" width="136.0" height="46.4" fill="#ffa261" stroke="#805130"/>
<rect x="895.6" y="517.3" width="136.0" height="46.4" fill="#ffc8a1" stroke="#806450"/>
<rect x="1039.0" y="517.3" width="136.0" height="46.4" fill="#ffa86b" stroke="#805436"/>
<rect x="1182.4" y="517.3" width="136.0" height="46.4" fill="#ffab70" stroke="#805638"/>
<rect x="1325.8" y="517.3" width="136.0" height="46.4" fill="#ffa261" stroke="#805130"/>
<rect x="1469.2" y="517.3" width="136.0" height="46.4" fill="#ffa261" stroke="#805130"/>
<rect x="752.2" y="571.1" width="136.0" height="46.4" fill="#0000ff" stroke="#000080"/>
<rect x="895.6" y="571.1" width="136.0" height="46.4" fill="#0000ff" stroke="#000080"/>
<rect x="1039.0" y="571.1" width="136.0" height="46.4" fill="#0000ff" stroke="#000080"/>
<rect x="1182.4" y="571.1" width="136.0" height="46.4" fill="#0000ff" stroke="#000080"/>
<rect x="1325.8" y="571.1" width="136.0" height="46.4" fill="#0808ff" stroke="#040480"/>
<rect x="1469.2" y="571.1" width="136.0" height="46.4" fill="#0000ff" stroke="#000080"/>
<rect x="752.2" y="624.9" width="136.0" height="46.4" fill="#9999ff" stroke="#4c4c80"/>
<rect x="895.6" y="624.9" width="136.0" height="46.4" fill="#6666ff" stroke="#333380"/>
<rect x="1039.0" y="624.9" width="136.0" height="46.4" fill="#9999ff" stroke="#4c4c80"/>
<rect x="1182.4" y="624.9" width="136.0" height="46.4" fill="#5252ff" stroke="#292980"/>
<rect x="1325.8" y="624.9" width="136.0" height="46.4" fill="#b8b8ff" stroke="#5c5c80"/>
<rect x="1469.2" y="624.9" width="136.0" height="46.4" fill="#9191ff" stroke="#494980"/>
<rect x="752.2" y="678.8" width="136.0" height="46.4" fill="#828282" stroke="#414141"/>
<rect x="895.6" y="678.8" width="136.0" height="46.4" fill="#828282" stroke="#414141"/>
<rect x="1039.0" y="678.8" width="136.0" height="46.4" fill="#828282" stroke="#414141"/>
<rect x="1182.4" y="678.8" width="136.0" height="46.4" fill="#828282" stroke="#414141"/>
<rect x="1325.8" y="678.8" width="136.0" height="46.4" fill="#828282" stroke="#414141"/>
<rect x="1469.2" y="678.8" width="136.0" height="46.4" fill="#828282" stroke="#414141"/>
<rect x="752.2" y="732.6" width="136.0" height="46.4" fill="#828282" stroke="#414141"/>
<rect x="895.6" y="732.6" width="136.0" height="46.4" fill="#828282" stroke="#414141"/>
<rect x="1039.0" y="732.6" width="136.0" height="46.4" fill="#828282" stroke="#414141"/>
<rect x="1182.4" y="732.6" width="136.0" height="46.4" fill="#828282" stroke="#414141"/>
<rect x="1325.8" y="732.6" width="136.0" height="46.4" fill="#828282" stroke="#414141"/>
<rect x="1469.2" y="732.6" width="136.0" height="46.4" fill="#828282" stroke="#414141"/>
<rect x="752.2" y="786.4" width="136.0" height="46.4" fill="#8080ff" stroke="#404080"/>
<rect x="895.6" y="786.4" width="136.0" height="46.4" fill="#b0b0ff" stroke="#585880"/>
<rect x="1039.0" y="786.4" width="136.0" height="46.4" fill="#a1a1ff" stroke="#505080"/>
<rect x="1182.4" y="786.4" width="136.0" height="46.4" fill="#a8a8ff" stroke="#545480"/>
<rect x="1325.8" y="786.4" width="136.0" height="46.4" fill="#bfbfff" stroke="#606080"/>
<rect x="1469.2" y="786.4" width="136.0" height="46.4" fill="#9999ff" stroke="#4c4c80"/>
<rect x="752.2" y="840.2" width="136.0" height="46.4" fill="#4040ff" stroke="#202080"/>
<rect x="895.6" y="840.2" width="136.0" height="46.4" fill="#828282" stroke="#414141"/>
<rect x="1039.0" y="840.2" width="136.0" height="46.4" fill="#0000ff" stroke="#000080"/>
<rect x="1182.4" y="840.2" width="136.0" height="46.4" fill="#0000ff" stroke="#000080"/>
<rect x="1325.8" y="840.2" width="136.0" height="46.4" fill="#828282" stroke="#414141"/>
<rect x="1469.2" y="840.2" width="136.0" height="46.4" fill="#0000ff" stroke="#000080"/>
<rect x="752.2" y="894.0" width="136.0" height="46.4" fill="#3030ff" stroke="#181880"/>
<rect x="895.6" y="894.0" width="136.0" height="46.4" fill="#0000ff" stroke="#000080"/>
<rect x="1039.0" y="894.0" width="136.0" height="46.4" fill="#4f4fff" stroke="#282880"/>
<rect x="1182.4" y="894.0" width="136.0" height="46.4" fill="#3030ff" stroke="#181880"/>
<rect x="1325.8" y="894.0" width="136.0" height="46.4" fill="#0000ff" stroke="#000080"/>
<rect x="1469.2" y="894.0" width="136.0" height="46.4" fill="#2929ff" stroke="#141480"/>
<rect x="752.2" y="947.8" width="136.0" height="46.4" fill="#ffffff" stroke="#808080"/>
<rect x="895.6" y="947.8" width="136.0" height="46.4" fill="#b8b8ff" stroke="#5c5c80"/>
<rect x="1039.0" y="947.8" width="136.0" height="46.4" fill="#f0f0ff" stroke="#787880"/>
<rect x="1182.4" y="947.8" width="136.0" height="46.4" fill="#ffffff" stroke="#808080"/>
<rect x="1325.8" y="947.8" width="136.0" height="46.4" fill="#fffefc" stroke="#807f7e"/>
<rect x="1469.2" y="947.8" width="136.0" height="46.4" fill="#ffeee3" stroke="#807771"/>
<rect x="752.2" y="1001.6" width="136.0" height="46.4" fill="#ff964d" stroke="#804b26"/>
<rect x="895.6" y="1001.6" width="136.0" height="46.4" fill="#ff6c05" stroke="#803603"/>
<rect x="1039.0" y="1001.6" width="136.0" height="46.4" fill="#ff6c05" stroke="#803603"/>
<rect x="1182.4" y="1001.6" width="136.0" height="46.4" fill="#ff6c05" stroke="#803603"/>
<rect x="1325.8" y="1001.6" width="136.0" height="46.4" fill="#ff6c05" stroke="#803603"/>
<rect x="1469.2" y="1001.6" width="136.0" height="46.4" fill="#ff6c05" stroke="#803603"/>
<rect x="752.2" y="1055.4" width="136.0" height="46.4" fill="#4040ff" stroke="#202080"/>
<rect x="895.6" y="1055.4" width="136.0" height="46.4" fill="#0f0fff" stroke="#080880"/>
<rect x="1039.0" y="1055.4" width="136.0" height="46.4" fill="#4f4fff" stroke="#282880"/>
<rect x="1182.4" y="1055.4" width="136.0" height="46.4" fill="#0808ff" stroke="#040480"/>
<rect x="1325.8" y="1055.4" width="136.0" height="46.4" fill="#2929ff" stroke="#141480"/>
<rect x="1469.2" y="1055.4" width="136.0" height="46.4" fill="#3030ff" stroke="#181880"/>
<rect x="752.2" y="1109.2" width="136.0" height="46.4" fill="#8080ff" stroke="#404080"/>
<rect x="895.6" y="1109.2" width="136.0" height="46.4" fill="#4040ff" stroke="#202080"/>
<rect x="1039.0" y="1109.2" width="136.0" height="46.4" fill="#4040ff" stroke="#202080"/>
<rect x="1182.4" y="1109.2" width="136.0" height="46.4" fill="#4747ff" stroke="#242480"/>
<rect x="1325.8" y="1109.2" width="136.0" height="46.4" fill="#8080ff" stroke="#404080"/>
<rect x="1469.2" y="1109.2" width="136.0" height="46.4" fill="#a1a1ff" stroke="#505080"/>
<rect x="752.2" y="1163.0" width="136.0" height="46.4" fill="#0000ff" stroke="#000080"/>
<rect x="895.6" y="1163.0" width="136.0" height="46.4" fill="#0f0fff" stroke="#080880"/>
<rect x="1039.0" y="1163.0" width="136.0" height="46.4" fill="#2121ff" stroke="#111180"/>
<rect x="1182.4" y="1163.0" width="136.0" height="46.4" fill="#828282" stroke="#414141"/>
<rect x="1325.8" y="1163.0" width="136.0" height="46.4" fill="#0000ff" stroke="#000080"/>
<rect x="1469.2" y="1163.0" width="136.0" height="46.4" fill="#0000ff" stroke="#000080"/>
<rect x="752.2" y="1216.9" width="136.0" height="46.4" fill="#b0b0ff" stroke="#585880"/>
<rect x="895.6" y="1216.9" width="136.0" height="46.4" fill="#a1a1ff" stroke="#505080"/>
<rect x="1039.0" y="1216.9" width="136.0" height="46.4" fill="#b8b8ff" stroke="#5c5c80"/>
<rect x="1182.4" y="1216.9" width="136.0" height="46.4" fill="#a1a1ff" stroke="#505080"/>
<rect x="1325.8" y="1216.9" width="136.0" height="46.4" fill="#b8b8ff" stroke="#5c5c80"/>
<rect x="1469.2" y="1216.9" width="136.0" height="46.4" fill="#b8b8ff" stroke="#5c5c80"/>
<rect x="752.2" y="1270.7" width="136.0" height="46.4" fill="#ffe4d1" stroke="#807269"/>
<rect x="895.6" y="1270.7" width="136.0" height="46.4" fill="#ffa669" stroke="#805334"/>
<rect x="1039.0" y="1270.7" width="136.0" height="46.4" fill="#ffb480" stroke="#805a40"/>
<rect x="1182.4" y="1270.7" width="136.0" height="46.4" fill="#ffc8a1" stroke="#806450"/>
<rect x="1325.8" y="1270.7" width="136.0" height="46.4" fill="#ffcca8" stroke="#806654"/>
<rect x="1469.2" y="1270.7" width="136.0" height="46.4" fill="#ffcca8" stroke="#806654"/>
<rect x="752.2" y="1324.5" width="136.0" height="46.4" fill="#6161ff" stroke="#303080"/>
<rect x="895.6" y="1324.5" width="136.0" height="46.4" fill="#1919ff" stroke="#0d0d80"/>
<rect x="1039.0" y="1324.5" width="136.0" height="46.4" fill="#8787ff" stroke="#444480"/>
<rect x="1182.4" y="1324.5" width="136.0" height="46.4" fill="#7070ff" stroke="#383880"/>
<rect x="1325.8" y="1324.5" width="136.0" height="46.4" fill="#4f4fff" stroke="#282880"/>
<rect x="1469.2" y="1324.5" width="136.0" height="46.4" fill="#4f4fff" stroke="#282880"/>
<rect x="752.2" y="1378.3" width="136.0" height="46.4" fill="#ff8733" stroke="#804419"/>
<rect x="895.6" y="1378.3" width="136.0" height="46.4" fill="#ffa669" stroke="#805334"/>
<rect x="1039.0" y="1378.3" width="136.0" height="46.4" fill="#ff8a38" stroke="#80451c"/>
<rect x="1182.4" y="1378.3" width="136.0" height="46.4" fill="#ff8733" stroke="#804419"/>
<rect x="1325.8" y="1378.3" width="136.0" height="46.4" fill="#ff7c21" stroke="#803e11"/>
<rect x="1469.2" y="1378.3" width="136.0" height="46.4" fill="#ff7412" stroke="#803a09"/>
<rect x="752.2" y="1432.1" width="136.0" height="46.4" fill="#ff7412" stroke="#803a09"/>
<rect x="895.6" y="1432.1" width="136.0" height="46.4" fill="#ff6f0a" stroke="#803805"/>
<rect x="1039.0" y="1432.1" width="136.0" height="46.4" fill="#ff6c05" stroke="#803603"/>
<rect x="1182.4" y="1432.1" width="136.0" height="46.4" fill="#ff6900" stroke="#803400"/>
<rect x="1325.8" y="1432.1" width="136.0" height="46.4" fill="#ff6900" stroke="#803400"/>
<rect x="1469.2" y="1432.1" width="136.0" height="46.4" fill="#ff6e08" stroke="#803704"/>
<rect x="752.2" y="1485.9" width="136.0" height="46.4" fill="#ffe4d1" stroke="#807269"/>
<rect x="895.6" y="1485.9" width="136.0" height="46.4" fill="#f5f5ff" stroke="#7a7a80"/>
<rect x="1039.0" y="1485.9" width="136.0" height="46.4" fill="#fcfcff" stroke="#7e7e80"/>
<rect x="1182.4" y="1485.9" width="136.0" height="46.4" fill="#f2f2ff" stroke="#797980"/>
<rect x="1325.8" y="1485.9" width="136.0" height="46.4" fill="#f2f2ff" stroke="#797980"/>
<rect x="1469.2" y="1485.9" width="136.0" height="46.4" fill="#f0f0ff" stroke="#787880"/>
<rect x="752.2" y="1539.7" width="136.0" height="46.4" fill="#3838ff" stroke="#1c1c80"/>
<rect x="895.6" y="1539.7" width="136.0" height="46.4" fill="#3838ff" stroke="#1c1c80"/>
<rect x="1039.0" y="1539.7" width="136.0" height="46.4" fill="#4747ff" stroke="#242480"/>
<rect x="1182.4" y="1539.7" width="136.0" height="46.4" fill="#4040ff" stroke="#202080"/>
<rect x="1325.8" y="1539.7" width="136.0" height="46.4" fill="#4f4fff" stroke="#282880"/>
<rect x="1469.2" y="1539.7" width="136.0" height="46.4" fill="#3030ff" stroke="#181880"/>
<rect x="752.2" y="1593.5" width="136.0" height="46.4" fill="#8787ff" stroke="#444480"/>
<rect x="895.6" y="1593.5" width="136.0" height="46.4" fill="#d1d1ff" stroke="#696980"/>
<rect x="1039.0" y="1593.5" width="136.0" height="46.4" fill="#b8b8ff" stroke="#5c5c80"/>
<rect x="1182.4" y="1593.5" width="136.0" height="46.4" fill="#a8a8ff" stroke="#545480"/>
<rect x="1325.8" y="1593.5" width="136.0" height="46.4" fill="#9999ff" stroke="#4c4c80"/>
<rect x="1469.2" y="1593.5" width="136.0" height="46.4" fill="#8787ff" stroke="#444480"/>
<rect x="752.2" y="1647.3" width="136.0" height="46.4" fill="#4f4fff" stroke="#282880"/>
<rect x="895.6" y="1647.3" width="136.0" height="46.4" fill="#0808ff" stroke="#040480"/>
<rect x="1039.0" y="1647.3" width="136.0" height="46.4" fill="#3838ff" stroke="#1c1c80"/>
<rect x="1182.4" y="1647.3" width="136.0" height="46.4" fill="#1919ff" stroke="#0d0d80"/>
<rect x="1325.8" y="1647.3" width="136.0" height="46.4" fill="#1919ff" stroke="#0d0d80"/>
<rect x="1469.2" y="1647.3" width="136.0" height="46.4" fill="#0f0fff" stroke="#080880"/>
<rect x="752.2" y="1701.1" width="136.0" height="46.4" fill="#828282" stroke="#414141"/>
<rect x="895.6" y="1701.1" width="136.0" height="46.4" fill="#828282" stroke="#414141"/>
<rect x="1039.0" y="1701.1" width="136.0" height="46.4" fill="#828282" stroke="#414141"/>
<rect x="1182.4" y="1701.1" width="136.0" height="46.4" fill="#828282" stroke="#414141"/>
<rect x="1325.8" y="1701.1" width="136.0" height="46.4" fill="#0000ff" stroke="#000080"/>
<rect x="1469.2" y="1701.1" width="136.0" height="46.4" fill="#828282" stroke="#414141"/>
<rect x="752.2" y="1755.0" width="136.0" height="46.4" fill="#ff7412" stroke="#803a09"/>
<rect x="895.6" y="1755.0" width="136.0" height="46.4" fill="#ff822b" stroke="#804116"/>
<rect x="1039.0" y="1755.0" width="136.0" height="46.4" fill="#ff944a" stroke="#804a25"/>
<rect x="1182.4" y="1755.0" width="136.0" height="46.4" fill="#ff944a" stroke="#804a25"/>
<rect x="1325.8" y="1755.0" width="136.0" height="46.4" fill="#ff8e40" stroke="#804720"/>
<rect x="1469.2" y="1755.0" width="136.0" height="46.4" fill="#ff822b" stroke="#804116"/>
<rect x="752.2" y="1808.8" width="136.0" height="46.4" fill="#ffb480" stroke="#805a40"/>
<rect x="895.6" y="1808.8" width="136.0" height="46.4" fill="#ff6e08" stroke="#803704"/>
<rect x="1039.0" y="1808.8" width="136.0" height="46.4" fill="#ff8e40" stroke="#804720"/>
<rect x="1182.4" y="1808.8" width="136.0" height="46.4" fill="#ff944a" stroke="#804a25"/>
<rect x="1325.8" y="1808.8" width="136.0" height="46.4" fill="#ffa669" stroke="#805334"/>
<rect x="1469.2" y="1808.8" width="136.0" height="46.4" fill="#ffa669" stroke="#805334"/>
<rect x="752.2" y="1862.6" width="136.0" height="46.4" fill="#ffd5b8" stroke="#806a5c"/>
<rect x="895.6" y="1862.6" width="136.0" height="46.4" fill="#ff6e08" stroke="#803704"/>
<rect x="1039.0" y="1862.6" width="136.0" height="46.4" fill="#ff9952" stroke="#804c29"/>
<rect x="1182.4" y="1862.6" width="136.0" height="46.4" fill="#ffb078" stroke="#80583c"/>
<rect x="1325.8" y="1862.6" width="136.0" height="46.4" fill="#ffbc8c" stroke="#805e46"/>
<rect x="1469.2" y="1862.6" width="136.0" height="46.4" fill="#ffd2b2" stroke="#806959"/>
<rect x="752.2" y="1916.4" width="136.0" height="46.4" fill="#ff9e59" stroke="#804f2d"/>
<rect x="895.6" y="1916.4" width="136.0" height="46.4" fill="#ff6f0a" stroke="#803805"/>
<rect x="1039.0" y="1916.4" width="136.0" height="46.4" fill="#ff8a38" stroke="#80451c"/>
<rect x="1182.4" y="1916.4" width="136.0" height="46.4" fill="#ff8e40" stroke="#804720"/>
<rect x="1325.8" y="1916.4" width="136.0" height="46.4" fill="#ff8e40" stroke="#804720"/>
<rect x="1469.2" y="1916.4" width="136.0" height="46.4" fill="#ff944a" stroke="#804a25"/>
<rect x="752.2" y="1970.2" width="136.0" height="46.4" fill="#ffffff" stroke="#808080"/>
<rect x="895.6" y="1970.2" width="136.0" height="46.4" fill="#ffc8a1" stroke="#806450"/>
<rect x="1039.0" y="1970.2" width="136.0" height="46.4" fill="#ffd5b8" stroke="#806a5c"/>
<rect x="1182.4" y="1970.2" width="136.0" height="46.4" fill="#ffdec7" stroke="#806f63"/>
<rect x="1325.8" y="1970.2" width="136.0" height="46.4" fill="#ffe8d9" stroke="#80746c"/>
<rect x="1469.2" y="1970.2" width="136.0" height="46.4" fill="#ffdec7" stroke="#806f63"/>
<rect x="752.2" y="2024.0" width="136.0" height="46.4" fill="#ff9952" stroke="#804c29"/>
<rect x="895.6" y="2024.0" width="136.0" height="46.4" fill="#ffe8d9" stroke="#80746c"/>
<rect x="1039.0" y="2024.0" width="136.0" height="46.4" fill="#ffc296" stroke="#80614b"/>
<rect x="1182.4" y="2024.0" width="136.0" height="46.4" fill="#ffab70" stroke="#805638"/>
<rect x="1325.8" y="2024.0" width="136.0" height="46.4" fill="#ffa669" stroke="#805334"/>
<rect x="1469.2" y="2024.0" width="136.0" height="46.4" fill="#ff9e59" stroke="#804f2d"/>
<rect x="752.2" y="2077.8" width="136.0" height="46.4" fill="#9191ff" stroke="#494980"/>
<rect x="895.6" y="2077.8" width="136.0" height="46.4" fill="#6161ff" stroke="#303080"/>
<rect x="1039.0" y="2077.8" width="136.0" height="46.4" fill="#a8a8ff" stroke="#545480"/>
<rect x="1182.4" y="2077.8" width="136.0" height="46.4" fill="#4747ff" stroke="#242480"/>
<rect x="1325.8" y="2077.8" width="136.0" height="46.4" fill="#7878ff" stroke="#3c3c80"/>
<rect x="1469.2" y="2077.8" width="136.0" height="46.4" fill="#7070ff" stroke="#383880"/>
<rect x="752.2" y="2131.6" width="136.0" height="46.4" fill="#fff9f5" stroke="#807c7a"/>
<rect x="895.6" y="2131.6" width="136.0" height="46.4" fill="#ffecde" stroke="#80766f"/>
<rect x="1039.0" y="2131.6" width="136.0" height="46.4" fill="#fff3eb" stroke="#807a75"/>
<rect x="1182.4" y="2131.6" width="136.0" height="46.4" fill="#fffaf7" stroke="#807d7c"/>
<rect x="1325.8" y="2131.6" width="136.0" height="46.4" fill="#fff2e8" stroke="#807974"/>
<rect x="1469.2" y="2131.6" width="136.0" height="46.4" fill="#ffffff" stroke="#808080"/>
<rect x="752.2" y="2185.4" width="136.0" height="46.4" fill="#9191ff" stroke="#494980"/>
<rect x="895.6" y="2185.4" width="136.0" height="46.4" fill="#9999ff" stroke="#4c4c80"/>
<rect x="1039.0" y="2185.4" width="136.0" height="46.4" fill="#a1a1ff" stroke="#505080"/>
<rect x="1182.4" y="2185.4" width="136.0" height="46.4" fill="#9999ff" stroke="#4c4c80"/>
<rect x="1325.8" y="2185.4" width="136.0" height="46.4" fill="#b0b0ff" stroke="#585880"/>
<rect x="1469.2" y="2185.4" width="136.0" height="46.4" fill="#a8a8ff" stroke="#545480"/>
<rect x="752.2" y="2239.2" width="136.0" height="46.4" fill="#f2f2ff" stroke="#797980"/>
<rect x="895.6" y="2239.2" width="136.0" height="46.4" fill="#dbdbff" stroke="#6e6e80"/>
<rect x="1039.0" y="2239.2" width="136.0" height="46.4" fill="#e8e8ff" stroke="#747480"/>
<rect x="1182.4" y="2239.2" width="136.0" height="46.4" fill="#dbdbff" stroke="#6e6e80"/>
<rect x="1325.8" y="2239.2" width="136.0" height="46.4" fill="#f2f2ff" stroke="#797980"/>
<rect x="1469.2" y="2239.2" width="136.0" height="46.4" fill="#e0e0ff" stroke="#707080"/>
<rect x="752.2" y="2293.1" width="136.0" height="46.4" fill="#ffc8a1" stroke="#806450"/>
<rect x="895.6" y="2293.1" width="136.0" height="46.4" fill="#ffeadb" stroke="#80756e"/>
<rect x="1039.0" y="2293.1" width="136.0" height="46.4" fill="#ffd5b8" stroke="#806a5c"/>
<rect x="1182.4" y="2293.1" width="136.0" height="46.4" fill="#ffdabf" stroke="#806d60"/>
<rect x="1325.8" y="2293.1" width="136.0" height="46.4" fill="#ffcca8" stroke="#806654"/>
<rect x="1469.2" y="2293.1" width="136.0" height="46.4" fill="#ffc8a1" stroke="#806450"/>
<rect x="752.2" y="2346.9" width="136.0" height="46.4" fill="#ffb480" stroke="#805a40"/>
<rect x="895.6" y="2346.9" width="136.0" height="46.4" fill="#ffc49c" stroke="#80624e"/>
<rect x="1039.0" y="2346.9" width="136.0" height="46.4" fill="#ffb078" stroke="#80583c"/>
<rect x="1182.4" y="2346.9" width="136.0" height="46.4" fill="#ffb078" stroke="#80583c"/>
<rect x="1325.8" y="2346.9" width="136.0" height="46.4" fill="#ffb480" stroke="#805a40"/>
<rect x="1469.2" y="2346.9" width="136.0" height="46.4" fill="#ffb078" stroke="#80583c"/>
<rect x="752.2" y="2400.7" width="136.0" height="46.4" fill="#fff8f2" stroke="#807c79"/>
<rect x="895.6" y="2400.7" width="136.0" height="46.4" fill="#ff7514" stroke="#803a0a"/>
<rect x="1039.0" y="2400.7" width="136.0" height="46.4" fill="#ff822b" stroke="#804116"/>
<rect x="1182.4" y="2400.7" width="136.0" height="46.4" fill="#ff9e59" stroke="#804f2d"/>
<rect x="1325.8" y="2400.7" width="136.0" height="46.4" fill="#ffba8a" stroke="#805d45"/>
<rect x="1469.2" y="2400.7" width="136.0" height="46.4" fill="#ffd0b0" stroke="#806858"/>
<rect x="752.2" y="2454.5" width="136.0" height="46.4" fill="#d1d1ff" stroke="#696980"/>
<rect x="895.6" y="2454.5" width="136.0" height="46.4" fill="#c9c9ff" stroke="#656580"/>
<rect x="1039.0" y="2454.5" width="136.0" height="46.4" fill="#f7f7ff" stroke="#7c7c80"/>
<rect x="1182.4" y="2454.5" width="136.0" height="46.4" fill="#ebebff" stroke="#757580"/>
<rect x="1325.8" y="2454.5" width="136.0" height="46.4" fill="#d9d9ff" stroke="#6c6c80"/>
<rect x="1469.2" y="2454.5" width="136.0" height="46.4" fill="#d9d9ff" stroke="#6c6c80"/>
<rect x="752.2" y="2508.3" width="136.0" height="46.4" fill="#a6a6ff" stroke="#535380"/>
<rect x="895.6" y="2508.3" width="136.0" height="46.4" fill="#8080ff" stroke="#404080"/>
<rect x="1039.0" y="2508.3" width="136.0" height="46.4" fill="#a8a8ff" stroke="#545480"/>
<rect x="1182.4" y="2508.3" width="136.0" height="46.4" fill="#8c8cff" stroke="#464680"/>
<rect x="1325.8" y="2508.3" width="136.0" height="46.4" fill="#a1a1ff" stroke="#505080"/>
<rect x="1469.2" y="2508.3" width="136.0" height="46.4" fill="#9999ff" stroke="#4c4c80"/>
<rect x="752.2" y="2562.1" width="136.0" height="46.4" fill="#ffdabf" stroke="#806d60"/>
<rect x="895.6" y="2562.1" width="136.0" height="46.4" fill="#ffa669" stroke="#805334"/>
<rect x="1039.0" y="2562.1" width="136.0" height="46.4" fill="#ffb887" stroke="#805c44"/>
<rect x="1182.4" y="2562.1" width="136.0" height="46.4" fill="#ffc296" stroke="#80614b"/>
<rect x="1325.8" y="2562.1" width="136.0" height="46.4" fill="#ffbd8f" stroke="#805e47"/>
<rect x="1469.2" y="2562.1" width="136.0" height="46.4" fill="#ffc8a1" stroke="#806450"/>
<rect x="752.2" y="2615.9" width="136.0" height="46.4" fill="#0000ff" stroke="#000080"/>
<rect x="895.6" y="2615.9" width="136.0" height="46.4" fill="#0000ff" stroke="#000080"/>
<rect x="1039.0" y="2615.9" width="136.0" height="46.4" fill="#0000ff" stroke="#000080"/>
<rect x="1182.4" y="2615.9" width="136.0" height="46.4" fill="#0000ff" stroke="#000080"/>
<rect x="1325.8" y="2615.9" width="136.0" height="46.4" fill="#0000ff" stroke="#000080"/>
<rect x="1469.2" y="2615.9" width="136.0" height="46.4" fill="#0000ff" stroke="#000080"/>
<rect x="752.2" y="2669.7" width="136.0" height="46.4" fill="#2929ff" stroke="#141480"/>
<rect x="895.6" y="2669.7" width="136.0" height="46.4" fill="#b0b0ff" stroke="#585880"/>
<rect x="1039.0" y="2669.7" width="136.0" height="46.4" fill="#e6e6ff" stroke="#737380"/>
<rect x="1182.4" y="2669.7" width="136.0" height="46.4" fill="#dbdbff" stroke="#6e6e80"/>
<rect x="1325.8" y="2669.7" width="136.0" height="46.4" fill="#a8a8ff" stroke="#545480"/>
<rect x="1469.2" y="2669.7" width="136.0" height="46.4" fill="#a8a8ff" stroke="#545480"/>
<rect x="752.2" y="2723.5" width="136.0" height="46.4" fill="#ffe1cc" stroke="#807066"/>
<rect x="895.6" y="2723.5" width="136.0" height="46.4" fill="#ffc9a3" stroke="#806452"/>
<rect x="1039.0" y="2723.5" width="136.0" height="46.4" fill="#ffd5b8" stroke="#806a5c"/>
<rect x="1182.4" y="2723.5" width="136.0" height="46.4" fill="#ffdcc4" stroke="#806e62"/>
<rect x="1325.8" y="2723.5" width="136.0" height="46.4" fill="#ffe1cc" stroke="#807066"/>
<rect x="1469.2" y="2723.5" width="136.0" height="46.4" fill="#ffe1cc" stroke="#807066"/>
<rect x="752.2" y="2777.3" width="136.0" height="46.4" fill="#ffe8d9" stroke="#80746c"/>
<rect x="895.6" y="2777.3" width="136.0" height="46.4" fill="#ff9a54" stroke="#804d2a"/>
<rect x="1039.0" y="2777.3" width="136.0" height="46.4" fill="#ffb887" stroke="#805c44"/>
<rect x="1182.4" y="2777.3" width="136.0" height="46.4" fill="#ffc8a1" stroke="#806450"/>
<rect x="1325.8" y="2777.3" width="136.0" height="46.4" fill="#ffb887" stroke="#805c44"/>
<rect x="1469.2" y="2777.3" width="136.0" height="46.4" fill="#ffc296" stroke="#80614b"/>
<rect x="752.2" y="2831.2" width="136.0" height="46.4" fill="#ffe1cc" stroke="#807066"/>
<rect x="895.6" y="2831.2" width="136.0" height="46.4" fill="#ffa669" stroke="#805334"/>
<rect x="1039.0" y="2831.2" width="136.0" height="46.4" fill="#ffb480" stroke="#805a40"/>
<rect x="1182.4" y="2831.2" width="136.0" height="46.4" fill="#ffc49c" stroke="#80624e"/>
<rect x="1325.8" y="2831.2" width="136.0" height="46.4" fill="#ffc8a1" stroke="#806450"/>
<rect x="1469.2" y="2831.2" width="136.0" height="46.4" fill="#ffc296" stroke="#80614b"/>
<rect x="752.2" y="2885.0" width="136.0" height="46.4" fill="#ededff" stroke="#777780"/>
<rect x="895.6" y="2885.0" width="136.0" height="46.4" fill="#f6f6ff" stroke="#7b7b80"/>
<rect x="1039.0" y="2885.0" width="136.0" height="46.4" fill="#f2f2ff" stroke="#797980"/>
<rect x="1182.4" y="2885.0" width="136.0" height="46.4" fill="#f2f2ff" stroke="#797980"/>
<rect x="1325.8" y="2885.0" width="136.0" height="46.4" fill="#f7f7ff" stroke="#7c7c80"/>
<rect x="1469.2" y="2885.0" width="136.0" height="46.4" fill="#f0f0ff" stroke="#787880"/>
<rect x="752.2" y="2938.8" width="136.0" height="46.4" fill="#ffdec7" stroke="#806f63"/>
<rect x="895.6" y="2938.8" width="136.0" height="46.4" fill="#ffcca8" stroke="#806654"/>
<rect x="1039.0" y="2938.8" width="136.0" height="46.4" fill="#ffd0b0" stroke="#806858"/>
<rect x="1182.4" y="2938.8" width="136.0" height="46.4" fill="#ffdec7" stroke="#806f63"/>
<rect x="1325.8" y="2938.8" width="136.0" height="46.4" fill="#ffdec7" stroke="#806f63"/>
<rect x="1469.2" y="2938.8" width="136.0" height="46.4" fill="#ffdabf" stroke="#806d60"/>
<rect x="752.2" y="2992.6" width="136.0" height="46.4" fill="#ffeadb" stroke="#80756e"/>
<rect x="895.6" y="2992.6" width="136.0" height="46.4" fill="#ffd2b2" stroke="#806959"/>
<rect x="1039.0" y="2992.6" width="136.0" height="46.4" fill="#ffe1cc" stroke="#807066"/>
<rect x="1182.4" y="2992.6" width="136.0" height="46.4" fill="#ffe6d4" stroke="#80736a"/>
<rect x="1325.8" y="2992.6" width="136.0" height="46.4" fill="#ffe6d4" stroke="#80736a"/>
<rect x="1469.2" y="2992.6" width="136.0" height="46.4" fill="#ffeadb" stroke="#80756e"/>
<rect x="752.2" y="3046.4" width="136.0" height="46.4" fill="#1919ff" stroke="#0d0d80"/>
<rect x="895.6" y="3046.4" width="136.0" height="46.4" fill="#3838ff" stroke="#1c1c80"/>
<rect x="1039.0" y="3046.4" width="136.0" height="46.4" fill="#4f4fff" stroke="#282880"/>
<rect x="1182.4" y="3046.4" width="136.0" height="46.4" fill="#2121ff" stroke="#111180"/>
<rect x="1325.8" y="3046.4" width="136.0" height="46.4" fill="#2929ff" stroke="#141480"/>
<rect x="1469.2" y="3046.4" width="136.0" height="46.4" fill="#1919ff" stroke="#0d0d80"/>
<rect x="752.2" y="3100.2" width="136.0" height="46.4" fill="#ececff" stroke="#767680"/>
<rect x="895.6" y="3100.2" width="136.0" height="46.4" fill="#ffeee3" stroke="#807771"/>
<rect x="1039.0" y="3100.2" width="136.0" height="46.4" fill="#ffeadb" stroke="#80756e"/>
<rect x="1182.4" y="3100.2" width="136.0" height="46.4" fill="#ffe6d4" stroke="#80736a"/>
<rect x="1325.8" y="3100.2" width="136.0" height="46.4" fill="#ffe6d4" stroke="#80736a"/>
<rect x="1469.2" y="3100.2" width="136.0" height="46.4" fill="#ffeadb" stroke="#80756e"/>
<rect x="752.2" y="3154.0" width="136.0" height="46.4" fill="#ffeadb" stroke="#80756e"/>
<rect x="895.6" y="3154.0" width="136.0" height="46.4" fill="#ffe1cc" stroke="#807066"/>
<rect x="1039.0" y="3154.0" width="136.0" height="46.4" fill="#ffeadb" stroke="#80756e"/>
<rect x="1182.4" y="3154.0" width="136.0" height="46.4" fill="#fff2e8" stroke="#807974"/>
<rect x="1325.8" y="3154.0" width="136.0" height="46.4" fill="#fff2e8" stroke="#807974"/>
<rect x="1469.2" y="3154.0" width="136.0" height="46.4" fill="#ffede0" stroke="#807670"/>
<rect x="752.2" y="3207.8" width="136.0" height="46.4" fill="#ffffff" stroke="#808080"/>
<rect x="895.6" y="3207.8" width="136.0" height="46.4" fill="#f7f7ff" stroke="#7c7c80"/>
<rect x="1039.0" y="3207.8" width="136.0" height="46.4" fill="#f7f7ff" stroke="#7c7c80"/>
<rect x="1182.4" y="3207.8" width="136.0" height="46.4" fill="#fafaff" stroke="#7d7d80"/>
<rect x="1325.8" y="3207.8" width="136.0" height="46.4" fill="#fcfcff" stroke="#7e7e80"/>
<rect x="1469.2" y="3207.8" width="136.0" height="46.4" fill="#fafaff" stroke="#7d7d80"/>
<rect x="752.2" y="3261.6" width="136.0" height="46.4" fill="#9191ff" stroke="#494980"/>
<rect x="895.6" y="3261.6" width="136.0" height="46.4" fill="#7070ff" stroke="#383880"/>
<rect x="1039.0" y="3261.6" width="136.0" height="46.4" fill="#9c9cff" stroke="#4e4e80"/>
<rect x="1182.4" y="3261.6" width="136.0" height="46.4" fill="#8585ff" stroke="#424280"/>
<rect x="1325.8" y="3261.6" width="136.0" height="46.4" fill="#8585ff" stroke="#424280"/>
<rect x="1469.2" y="3261.6" width="136.0" height="46.4" fill="#6969ff" stroke="#343480"/>
</g>
</svg>
</body></html>
